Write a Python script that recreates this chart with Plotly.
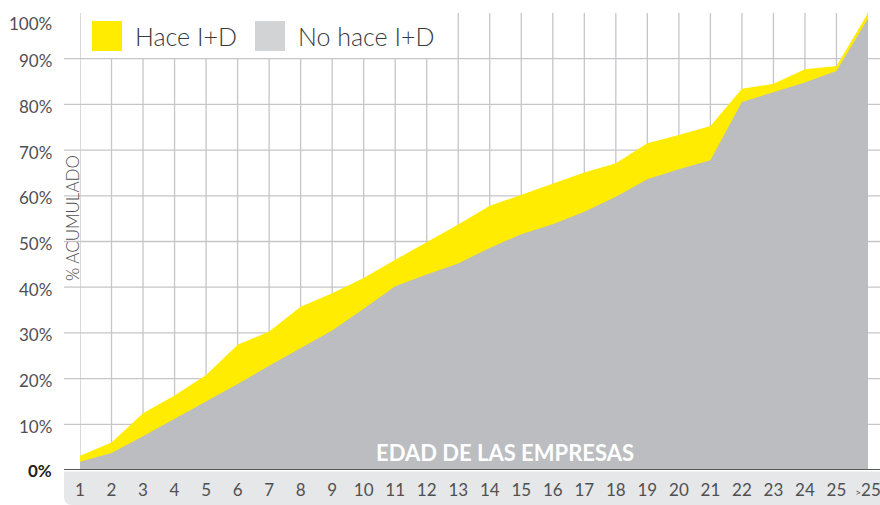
import plotly.graph_objects as go

categories = [str(i) for i in range(1, 26)] + [">25"]
tick_labels = [str(i) for i in range(1, 26)] + ["<span style='font-size:10px'>&gt;</span>25"]
hace_id = [3.1, 6.0, 12.4, 16.3, 20.8, 27.4, 30.3, 35.7, 38.7, 42.0, 46.0, 49.8, 53.7,
           57.8, 60.2, 62.7, 65.1, 67.1, 71.5, 73.3, 75.3, 83.4, 84.5, 87.7, 88.4, 100.0]
no_hace_id = [1.8, 3.7, 7.4, 11.2, 15.1, 18.8, 22.8, 26.6, 30.5, 35.3, 40.2, 42.8, 45.2,
              48.6, 51.6, 53.8, 56.5, 59.8, 63.6, 65.8, 67.8, 80.5, 82.6, 84.8, 87.3, 98.8]
y_ticks = [10, 20, 30, 40, 50, 60, 70, 80, 90]

YELLOW = "#FFEC00"
GRAY = "#BCBDC0"
GRID = "#C6C6CA"
TXT = "#505052"
FONT = "Lato"

W, H = 880, 505
L, R, T, B = 80, 12, 13, 35
PW, PH = W - L - R, H - T - B

fig = go.Figure()
fig.add_trace(go.Scatter(x=categories, y=hace_id, mode="lines", line=dict(width=0, color=YELLOW),
                         fill="tozeroy", fillcolor=YELLOW, name="Hace I+D", showlegend=False,
                         hoverinfo="skip"))
fig.add_trace(go.Scatter(x=categories, y=no_hace_id, mode="lines", line=dict(width=0, color=GRAY),
                         fill="tozeroy", fillcolor=GRAY, name="No hace I+D", showlegend=False,
                         hoverinfo="skip"))

shapes = []
for v in y_ticks:
    shapes.append(dict(type="line", xref="paper", yref="y", x0=(64 - L) / PW, x1=(W - L) / PW,
                       y0=v, y1=v, line=dict(color=GRID, width=1.3), layer="below"))
for i, c in enumerate(categories):
    top = 90 if 1 <= i <= 11 else 100
    shapes.append(dict(type="line", xref="x", yref="y", x0=i, x1=i, y0=0, y1=top,
                       line=dict(color=GRID, width=1.3), layer="below"))
bx0 = (64 - L) / PW
bx1 = (W - L) / PW
by0 = -1.5 / PH
by1 = -(H - T - PH) / PH
shapes.append(dict(type="path", xref="paper", yref="paper",
                   path=f"M {bx0} {by0} L {bx1} {by0} L {bx1} {by1} L {bx0 + 8/PW} {by1} "
                        f"Q {bx0} {by1} {bx0} {by1 + 8/PH} Z",
                   fillcolor="#E6E7E8", line=dict(width=0), layer="below"))
shapes.append(dict(type="line", xref="paper", yref="y", x0=bx0, x1=bx1, y0=0, y1=0,
                   line=dict(color="#58585A", width=2.2), layer="above"))
shapes.append(dict(type="rect", xref="paper", yref="paper",
                   x0=(92 - L) / PW, x1=(122 - L) / PW, y0=(H - B - 51) / PH, y1=(H - B - 21) / PH,
                   fillcolor=YELLOW, line=dict(width=0)))
shapes.append(dict(type="rect", xref="paper", yref="paper",
                   x0=(255 - L) / PW, x1=(285 - L) / PW, y0=(H - B - 51) / PH, y1=(H - B - 21) / PH,
                   fillcolor="#D1D3D4", line=dict(width=0)))

annotations = []
for v in y_ticks:
    annotations.append(dict(text=f"{v}%", xref="paper", yref="y", x=(54 - L) / PW, y=v,
                            xanchor="right", yanchor="middle", showarrow=False, yshift=-2,
                            font=dict(family=FONT, size=17, color=TXT, weight=400)))
annotations.append(dict(text="100%", xref="paper", yref="y", x=(54 - L) / PW, y=100,
                        xanchor="right", yanchor="middle", showarrow=False, yshift=-10,
                        font=dict(family=FONT, size=17, color=TXT, weight=400)))
annotations.append(dict(text="<b>0%</b>", xref="paper", yref="y", x=(54 - L) / PW, y=0,
                        xanchor="right", yanchor="middle", showarrow=False,
                        font=dict(family=FONT, size=17, color="#231f20")))
annotations.append(dict(text="% ACUMULADO", xref="paper", yref="paper", x=(72 - L) / PW,
                        y=(H - B - 218) / PH, textangle=-90, xanchor="center", yanchor="middle",
                        showarrow=False, font=dict(family=FONT, size=17, color=TXT, weight=300)))
annotations.append(dict(text="<b>EDAD DE LAS EMPRESAS</b>", xref="paper", yref="paper",
                        x=(505 - L) / PW, y=(H - B - 452) / PH, xanchor="center", yanchor="middle",
                        showarrow=False, font=dict(family=FONT, size=22, color="white")))
annotations.append(dict(text="Hace I+D", xref="paper", yref="paper", x=(133 - L) / PW,
                        y=(H - B - 36) / PH, xanchor="left", yanchor="middle", showarrow=False,
                        font=dict(family=FONT, size=25, color="#3a3a3c", weight=300)))
annotations.append(dict(text="No hace I+D", xref="paper", yref="paper", x=(296 - L) / PW,
                        y=(H - B - 36) / PH, xanchor="left", yanchor="middle", showarrow=False,
                        font=dict(family=FONT, size=25, color="#3a3a3c", weight=300)))

fig.update_layout(
    width=W, height=H, margin=dict(l=L, r=R, t=T, b=B),
    paper_bgcolor="white", plot_bgcolor="white",
    shapes=shapes, annotations=annotations, showlegend=False,
    xaxis=dict(type="category", range=[0, 25], showgrid=False, zeroline=False, showline=False,
               automargin=False,
               tickmode="array", tickvals=categories, ticktext=tick_labels,
               ticks="outside", ticklen=5, tickcolor="rgba(0,0,0,0)",
               tickfont=dict(family=FONT, size=17, color=TXT, weight=400)),
    yaxis=dict(range=[0, 100], showgrid=False, zeroline=False, showline=False,
               automargin=False, showticklabels=False),
)

fig.write_html("out.html", config={"displayModeBar": False},
               post_script="document.body.style.margin='0';document.body.style.overflow='hidden';")
